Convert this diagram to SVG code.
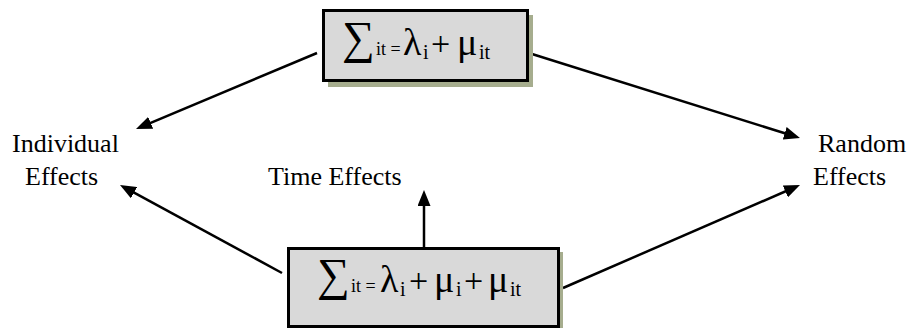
<svg xmlns="http://www.w3.org/2000/svg" width="910" height="328" viewBox="0 0 910 328">
<style>
.lbl{font-family:"Liberation Serif","Times New Roman",serif;font-size:26px;fill:#000}
.f{font-family:"Liberation Serif","Times New Roman",serif;fill:#000}
.sum{font-size:46px}
.big{font-size:38px}
.plus{font-size:34px}
.sub{font-size:20px}
.sub2{font-size:18px}
.box{fill:#d9d9d9;stroke:#000;stroke-width:3}
.shadow{fill:#a6ad8e}
.conn{stroke:#000;stroke-width:2.5;fill:none;marker-end:url(#ah)}
</style>
<defs>
<marker id="ah" viewBox="0 0 16 13" refX="11" refY="6.5" markerWidth="16" markerHeight="13" markerUnits="userSpaceOnUse" orient="auto">
<path d="M0,0 L16,6.5 L0,13 z" fill="#000"/>
</marker>
</defs>
<g id="connectors">
<line class="conn" x1="317" y1="53" x2="140.6" y2="127.1"/>
<line class="conn" x1="282" y1="273" x2="124.4" y2="187.4"/>
<line class="conn" x1="532" y1="54" x2="795.2" y2="136.5"/>
<line class="conn" x1="563" y1="288" x2="795.4" y2="187"/>
<line class="conn" x1="424" y1="247" x2="424" y2="195"/>
</g>
<g id="node-top">
<rect class="shadow" x="328" y="15" width="205" height="72"/>
<rect class="box" x="323.5" y="10.5" width="204" height="70"/>
<text class="f" y="55"><tspan class="sum" x="342" y="53">∑</tspan><tspan class="sub2" x="376" y="55">it =</tspan><tspan class="big" x="403">λ</tspan><tspan class="sub" x="423" y="59">i</tspan><tspan class="plus" x="431" y="55">+</tspan><tspan class="big" x="457">μ</tspan><tspan class="sub" x="479" y="59">it</tspan></text>
</g>
<g id="node-bottom">
<rect class="shadow" x="292" y="252" width="271" height="80"/>
<rect class="box" x="288.5" y="248.5" width="270" height="78"/>
<text class="f" y="292"><tspan class="sum" x="317" y="290">∑</tspan><tspan class="sub2" x="351" y="292">it =</tspan><tspan class="big" x="380">λ</tspan><tspan class="sub" x="400" y="296">i</tspan><tspan class="plus" x="409" y="292">+</tspan><tspan class="big" x="434">μ</tspan><tspan class="sub" x="456" y="296">i</tspan><tspan class="plus" x="464" y="292">+</tspan><tspan class="big" x="488">μ</tspan><tspan class="sub" x="510" y="296">it</tspan></text>
</g>
<g id="node-individual">
<text class="lbl" x="12" y="152">Individual</text>
<text class="lbl" x="25" y="185">Effects</text>
</g>
<g id="node-time">
<text class="lbl" x="268" y="185">Time Effects</text>
</g>
<g id="node-random">
<text class="lbl" x="818" y="152">Random</text>
<text class="lbl" x="813" y="185">Effects</text>
</g>
</svg>
